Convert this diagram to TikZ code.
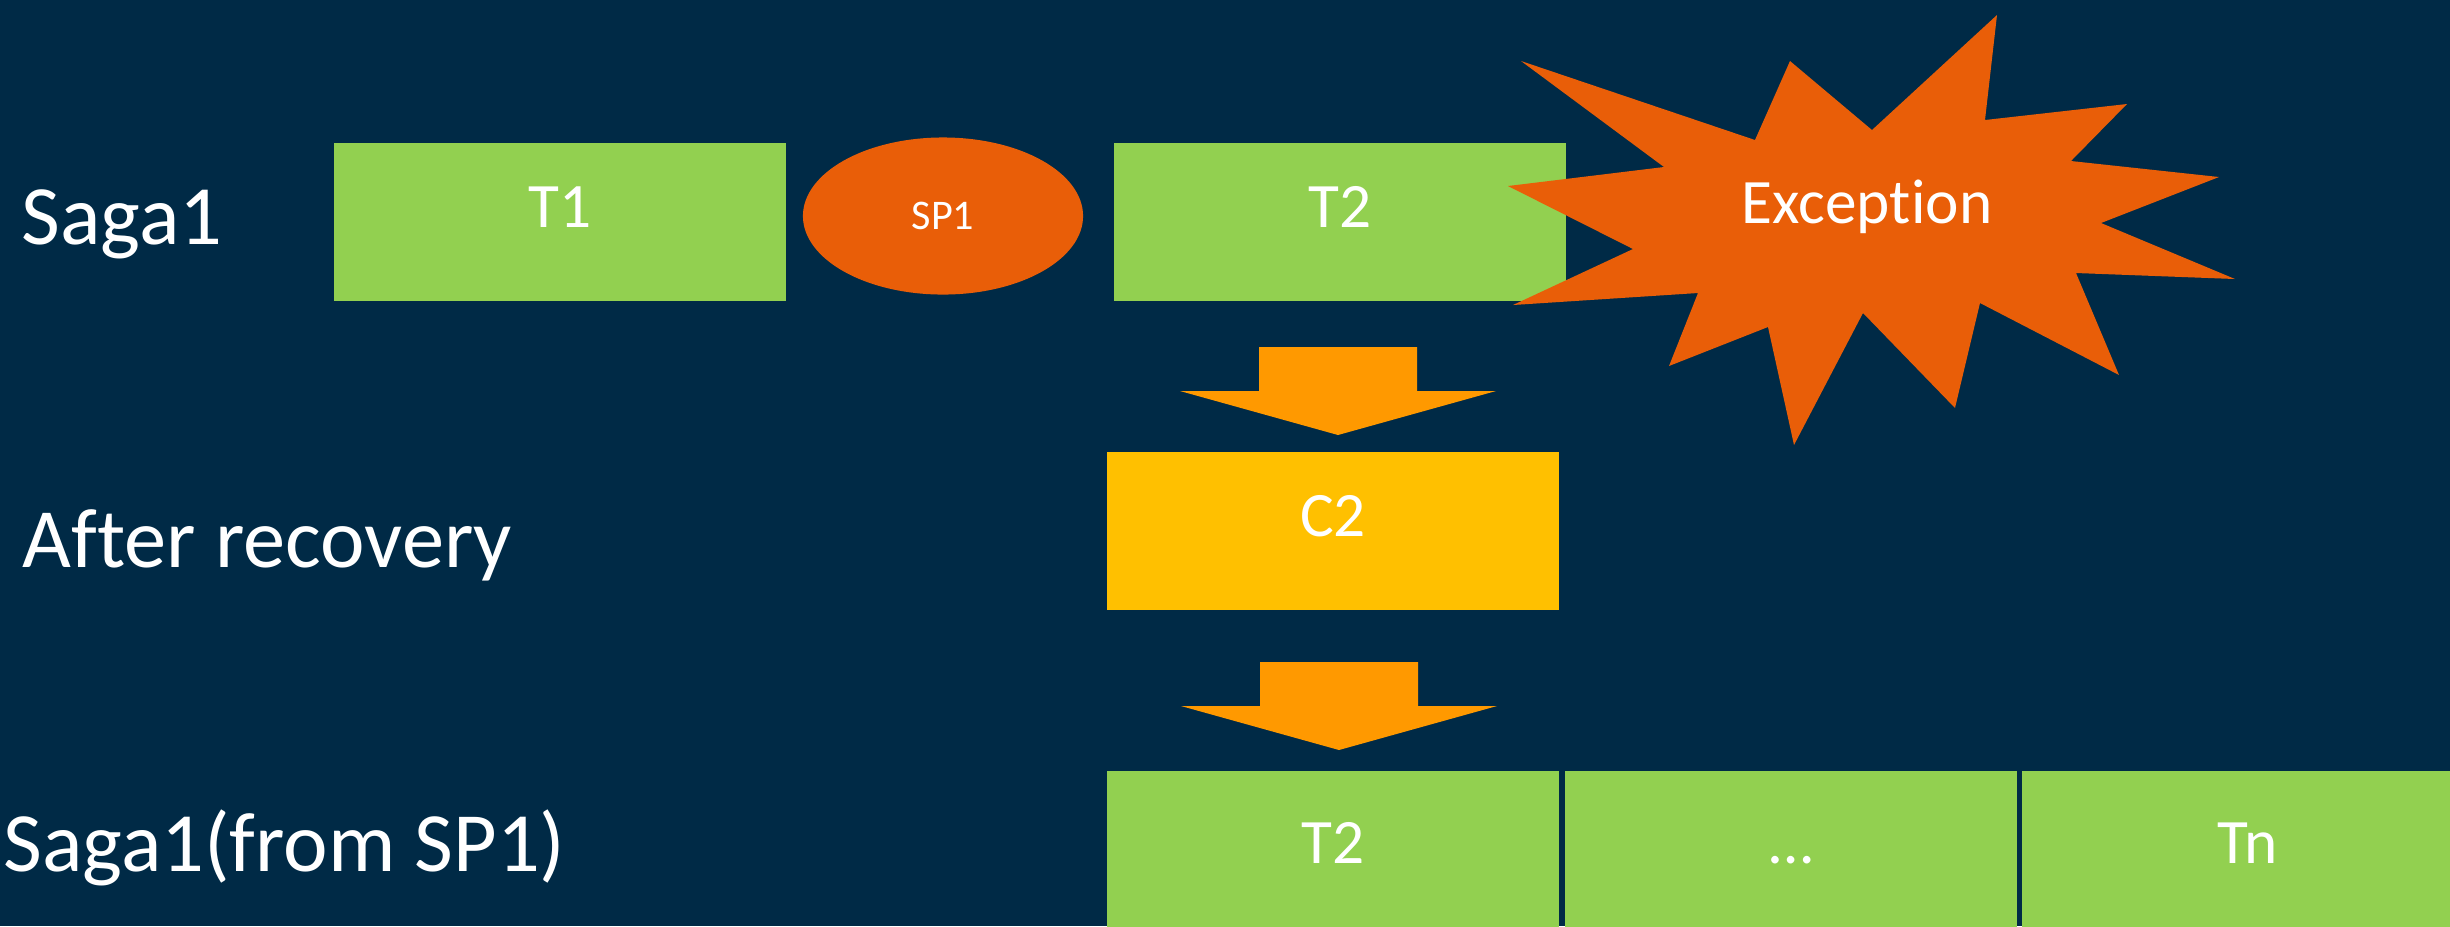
\documentclass[tikz,border=0pt]{standalone}
\usepackage{fontspec}
\setmainfont{Carlito}[Ligatures=NoCommon]
\usetikzlibrary{shapes.geometric}
\definecolor{slidebg}{HTML}{002A46}
\definecolor{taskgreen}{HTML}{92D050}
\definecolor{spred}{HTML}{E95E08}
\definecolor{flowarrow}{HTML}{FF9900}
\definecolor{compyellow}{HTML}{FFC000}
\begin{document}
\begin{tikzpicture}[x=0.01cm, y=-0.01cm,
  task/.style={rectangle, fill=taskgreen, text=white, minimum width=4.51cm, minimum height=1.58cm,
    inner sep=0pt, text height=0.45cm, text depth=0.35cm, font=\fontsize{18}{20}\selectfont},
  rowlabel/.style={anchor=base west, text=white, inner sep=0pt, font=\fontsize{24}{28}\selectfont},
  blockarrow/.pic={\fill[flowarrow] (-79,0) -- (79,0) -- (79,44) -- (158,44) -- (0,88) -- (-158,44) -- (-79,44) -- cycle;}]
\clip (0,0) rectangle (2450,926);
\fill[slidebg] (0,0) rectangle (2450,926);
% row labels
\node[rowlabel] (lsaga) at (21,244) {Saga1};
\node[rowlabel] (lrec) at (22,567) {After recovery};
\node[rowlabel] (lfrom) at (3,871) {Saga1(from SP1)};
% first run
\node[task] (t1) at (560,222) {T1};
\node[ellipse, fill=spred, minimum width=2.8cm, minimum height=1.57cm, inner sep=0pt, text=white, font=\fontsize{12}{14}\selectfont] (sp1) at (943,216) {SP1};
\node[task] (t2) at (1340,222) {T2};
\fill[spred] (1521,61) -- (1755,140) -- (1790,61) -- (1872,130) -- (1997,15) -- (1985,120)
  -- (2127,104) -- (2071,161) -- (2219,177) -- (2101,223) -- (2235,279) -- (2076,273)
  -- (2119,375) -- (1980,303) -- (1955,408) -- (1863,313) -- (1794,445) -- (1768,327)
  -- (1669,366) -- (1698,293) -- (1513,305) -- (1633,249) -- (1508,186) -- (1664,167) -- cycle;
\node[anchor=base, text=white, inner sep=0pt, font=\fontsize{18}{20}\selectfont] (exc) at (1867,223) {Exception};
% compensation
\pic at (1338,347) {blockarrow};
\node[task, fill=compyellow] (c2) at (1333,531) {C2};
\pic at (1339,662) {blockarrow};
% rerun from SP1, boxes run off the bottom edge
\tikzset{task/.append style={minimum height=1.66cm, text height=0.49cm, text depth=0.31cm}}
\node[task] (t2b) at (1333,854) {T2};
\node[task] (tdots) at (1791,854) {…};
\node[task] (tn) at (2248,854) {Tn};
\end{tikzpicture}
\end{document}
